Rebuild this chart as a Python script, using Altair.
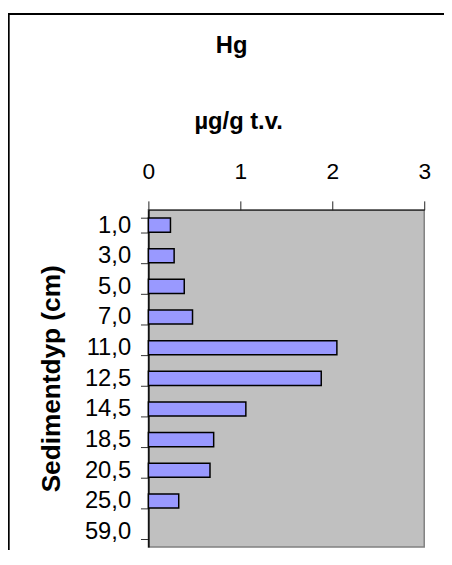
import altair as alt
import pandas as pd

depths = ["1,0", "3,0", "5,0", "7,0", "11,0", "12,5", "14,5", "18,5", "20,5", "25,0", "59,0"]
hg = [0.24, 0.28, 0.39, 0.48, 2.05, 1.88, 1.06, 0.71, 0.67, 0.33, None]
x_ticks = [0, 1, 2, 3]
chart_title = "Hg"

df = pd.DataFrame({"depth": depths, "hg": hg})

FONT = "Liberation Sans"

bars = alt.Chart(df).mark_bar(
    color="#9999FF", stroke="black", strokeWidth=1.5
).encode(
    x=alt.X(
        "hg:Q",
        scale=alt.Scale(domain=[0, 3], nice=False, zero=True),
        axis=alt.Axis(
            orient="top",
            values=x_ticks,
            format="d",
            grid=False,
            title="µg/g t.v.",
            titleFont=FONT,
            titleFontSize=24,
            titleFontWeight="bold",
            titleX=90.7,
            titleY=-82,
            titleAlign="center",
            titleBaseline="alphabetic",
            titleColor="black",
            labelFont=FONT,
            labelFontSize=23,
            labelColor="black",
            labelBaseline="alphabetic",
            labelPadding=23,
            tickSize=9,
            tickColor="#222222",
            domainColor="#222222",
            domainWidth=1,
            labelFlush=False,
        ),
    ),
    y=alt.Y(
        "depth:N",
        sort=depths,
        scale=alt.Scale(domain=depths, paddingInner=0.54, paddingOuter=0.27),
        axis=alt.Axis(
            title="Sedimentdyp (cm)",
            titleFont=FONT,
            titleFontSize=26.5,
            titleFontWeight="bold",
            titleColor="black",
            titleAngle=-90,
            titleX=-90,
            titleY=170.5,
            titleAlign="center",
            titleBaseline="alphabetic",
            labelFont=FONT,
            labelFontSize=24,
            labelColor="black",
            labelPadding=10,
            tickBand="extent",
            tickSize=8,
            tickColor="#333333",
            domainColor="black",
            domainWidth=1.5,
            grid=False,
        ),
    ),
)

frame_data = alt.Data(values=[{"t": chart_title}])
left_border = alt.Chart(frame_data).mark_rule(color="black", strokeWidth=2).encode(
    x=alt.value(-141.3), y=alt.value(-199), y2=alt.value(360)
)
top_border = alt.Chart(frame_data).mark_rule(color="black", strokeWidth=2).encode(
    x=alt.value(-142.3), x2=alt.value(320), y=alt.value(-198)
)
title_text = alt.Chart(frame_data).mark_text(
    font=FONT, fontSize=24, fontWeight="bold", color="black",
    align="center", baseline="alphabetic"
).encode(
    text="t:N", x=alt.value(84.2), y=alt.value(-158.3)
)

chart = alt.layer(bars, left_border, top_border, title_text).properties(
    width=279,
    height=341,
    padding={"left": 142, "top": 201, "right": 20, "bottom": 0},
    autosize=alt.AutoSizeParams(type="none"),
    background="white",
).configure_view(
    fill="#C0C0C0", stroke="#808080", strokeWidth=1.5
)

chart.save("out.html", embed_options={"renderer": "svg", "actions": False})
